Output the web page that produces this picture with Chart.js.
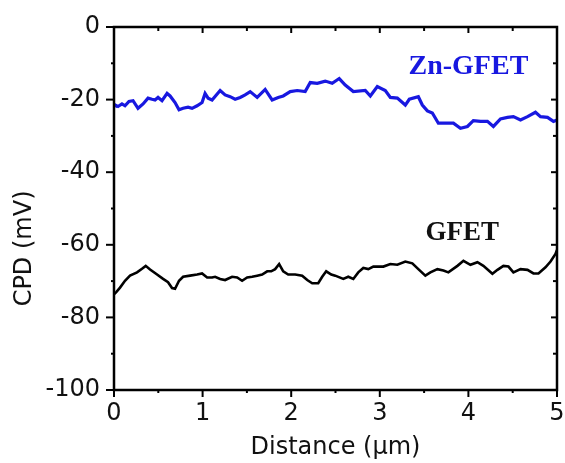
<!DOCTYPE html>
<html>
<head>
<meta charset="utf-8">
<script src="https://cdn.jsdelivr.net/npm/chart.js@4.4.1/dist/chart.umd.min.js"></script>
<style>
  html, body { margin: 0; padding: 0; background: #fff; }
  #wrap { width: 565px; height: 463px; }
</style>
</head>
<body>
<div id="wrap"><canvas id="cpd"></canvas></div>
<script>
// CPD line profiles along the scan, Zn-decorated vs bare graphene FET
const znX = [0, 0.011, 0.045, 0.090, 0.124, 0.169, 0.215, 0.271, 0.328, 0.384,
  0.429, 0.463, 0.497, 0.542, 0.599, 0.633, 0.689, 0.734, 0.780, 0.836,
  0.881, 0.938, 0.994, 1.028, 1.062, 1.107, 1.198, 1.254, 1.311, 1.367,
  1.424, 1.480, 1.537, 1.616, 1.706, 1.785, 1.853, 1.910, 1.989, 2.068,
  2.158, 2.215, 2.294, 2.384, 2.463, 2.542, 2.610, 2.701, 2.836, 2.893,
  2.972, 3.062, 3.119, 3.198, 3.288, 3.333, 3.435, 3.480, 3.537, 3.593,
  3.661, 3.763, 3.831, 3.910, 3.989, 4.056, 4.136, 4.215, 4.282, 4.362,
  4.441, 4.508, 4.588, 4.667, 4.757, 4.814, 4.893, 4.960, 5.0];
const znCPD = [-21.3, -21.5, -21.9, -21.2, -21.7, -20.5, -20.3, -22.4, -21.2, -19.6,
  -19.9, -20.1, -19.4, -20.3, -18.3, -19.0, -20.8, -22.8, -22.4, -22.1,
  -22.4, -21.7, -20.8, -18.3, -19.6, -20.1, -17.5, -18.7, -19.2, -19.9,
  -19.4, -18.7, -17.8, -19.4, -17.2, -20.1, -19.4, -19.0, -17.8, -17.5,
  -17.8, -15.3, -15.5, -14.9, -15.5, -14.2, -16.0, -17.8, -17.5, -19.0,
  -16.4, -17.5, -19.4, -19.6, -21.5, -19.9, -19.2, -21.5, -23.1, -23.7,
  -26.5, -26.5, -26.5, -27.9, -27.4, -25.8, -26.0, -26.0, -27.4, -25.3,
  -24.9, -24.7, -25.6, -24.7, -23.5, -24.7, -24.9, -26.0, -25.6];

const gX = [0, 0.023, 0.068, 0.124, 0.181, 0.260, 0.316, 0.358, 0.407, 0.486,
  0.554, 0.610, 0.655, 0.689, 0.734, 0.780, 0.859, 0.938, 0.994, 1.051,
  1.107, 1.141, 1.198, 1.254, 1.333, 1.390, 1.446, 1.503, 1.559, 1.616,
  1.672, 1.729, 1.774, 1.819, 1.864, 1.910, 1.966, 2.045, 2.124, 2.181,
  2.237, 2.305, 2.350, 2.395, 2.452, 2.497, 2.588, 2.644, 2.701, 2.757,
  2.814, 2.870, 2.927, 3.040, 3.119, 3.198, 3.288, 3.367, 3.435, 3.514,
  3.571, 3.650, 3.718, 3.774, 3.876, 3.944, 4.023, 4.102, 4.169, 4.271,
  4.328, 4.395, 4.452, 4.508, 4.588, 4.667, 4.734, 4.791, 4.870, 4.927,
  4.983, 5.0];
const gCPD = [-73.6, -73.1, -71.8, -69.9, -68.5, -67.6, -66.6, -65.8, -66.8, -68.2,
  -69.4, -70.3, -71.9, -72.1, -69.9, -68.8, -68.5, -68.2, -67.9, -69.0,
  -69.0, -68.8, -69.4, -69.7, -68.8, -69.0, -69.9, -69.0, -68.8, -68.5,
  -68.2, -67.3, -67.3, -66.7, -65.3, -67.3, -68.2, -68.2, -68.5, -69.7,
  -70.6, -70.6, -68.8, -67.3, -68.2, -68.5, -69.4, -68.8, -69.4, -67.6,
  -66.4, -66.7, -66.0, -66.0, -65.3, -65.5, -64.6, -65.1, -66.7, -68.5,
  -67.6, -66.7, -67.1, -67.6, -65.8, -64.4, -65.5, -64.8, -65.8, -68.0,
  -66.9, -65.8, -66.0, -67.6, -66.7, -66.9, -67.9, -67.9, -66.2, -64.6,
  -62.5, -61.4];

const BLUE = "#1818e0";
const SANS = '"DejaVu Sans", sans-serif';
const SERIF = '"Liberation Serif", "Times New Roman", serif';

const pts = (xs, ys) => xs.map((x, i) => ({ x, y: ys[i] }));

// box frame, Origin-style ticks (out on left/bottom, in on top/right),
// rotated y title and the in-plot series labels
const framePlugin = {
  id: "frame",
  afterDraw(chart) {
    const { ctx, chartArea: a, scales: { x, y } } = chart;
    const seg = (x1, y1, x2, y2) => { ctx.beginPath(); ctx.moveTo(x1, y1); ctx.lineTo(x2, y2); ctx.stroke(); };
    ctx.save();
    ctx.strokeStyle = "#000";
    ctx.lineWidth = 2.5;
    ctx.strokeRect(a.left, a.top, a.right - a.left, a.bottom - a.top);
    ctx.lineWidth = 2;
    for (let i = 0; i <= 10; i++) {
      const v = i / 2, px = x.getPixelForValue(v), major = i % 2 === 0;
      seg(px, a.bottom, px, a.bottom + (major ? 7 : 3));
      seg(px, a.top, px, a.top + (major ? 6 : 4));
    }
    for (let v = -100; v <= 0; v += 10) {
      const py = y.getPixelForValue(v), major = v % 20 === 0;
      seg(a.left, py, a.left - (major ? 8 : 3), py);
      seg(a.right, py, a.right - (major ? 6 : 4), py);
    }

    ctx.fillStyle = "#111";
    ctx.font = "24px " + SANS;
    ctx.textAlign = "center";
    ctx.textBaseline = "middle";
    ctx.translate(25, y.getPixelForValue(-61));
    ctx.rotate(-Math.PI / 2);
    ctx.fillText("CPD (mV)", 0, 0);
    ctx.restore();

    ctx.save();
    ctx.textAlign = "center";
    ctx.textBaseline = "alphabetic";
    ctx.font = "bold 28px " + SERIF;
    ctx.fillStyle = BLUE;
    ctx.fillText("Zn-GFET", x.getPixelForValue(4.0), y.getPixelForValue(-13.0));
    ctx.fillStyle = "#111";
    ctx.font = "bold 27px " + SERIF;
    ctx.fillText("GFET", x.getPixelForValue(3.93), y.getPixelForValue(-58.6));
    ctx.restore();
  },
};

new Chart(document.getElementById("cpd"), {
  type: "line",
  data: {
    datasets: [
      { label: "Zn-GFET", data: pts(znX, znCPD), borderColor: BLUE, borderWidth: 3.2,
        pointRadius: 0, tension: 0 },
      { label: "GFET", data: pts(gX, gCPD), borderColor: "#000", borderWidth: 2.6,
        pointRadius: 0, tension: 0 },
    ],
  },
  options: {
    responsive: true, maintainAspectRatio: false, animation: false,
    layout: { padding: { top: 27, right: 8, bottom: 0, left: 0 } },
    plugins: { legend: { display: false }, tooltip: { enabled: false } },
    scales: {
      x: {
        type: "linear", min: 0, max: 5,
        grid: { display: false, drawTicks: false }, border: { display: false },
        ticks: { stepSize: 1, padding: 9, color: "#111", font: { family: SANS, size: 24 } },
        title: { display: true, text: "Distance (\u03bcm)", color: "#111",
          font: { family: SANS, size: 24 }, padding: { top: 0, bottom: 1 } },
        // the edge labels may hang past the frame; keep the plot box fixed
        afterFit(s) { s.height = 73; s.paddingLeft = 0; s.paddingRight = 0; },
      },
      y: {
        min: -100, max: 0,
        grid: { display: false, drawTicks: false }, border: { display: false },
        ticks: { stepSize: 20, padding: 14, color: "#111", font: { family: SANS, size: 24 } },
        afterFit(s) { s.width = 114; s.paddingTop = 0; s.paddingBottom = 0; },
      },
    },
  },
  plugins: [framePlugin],
});
</script>
</body>
</html>
